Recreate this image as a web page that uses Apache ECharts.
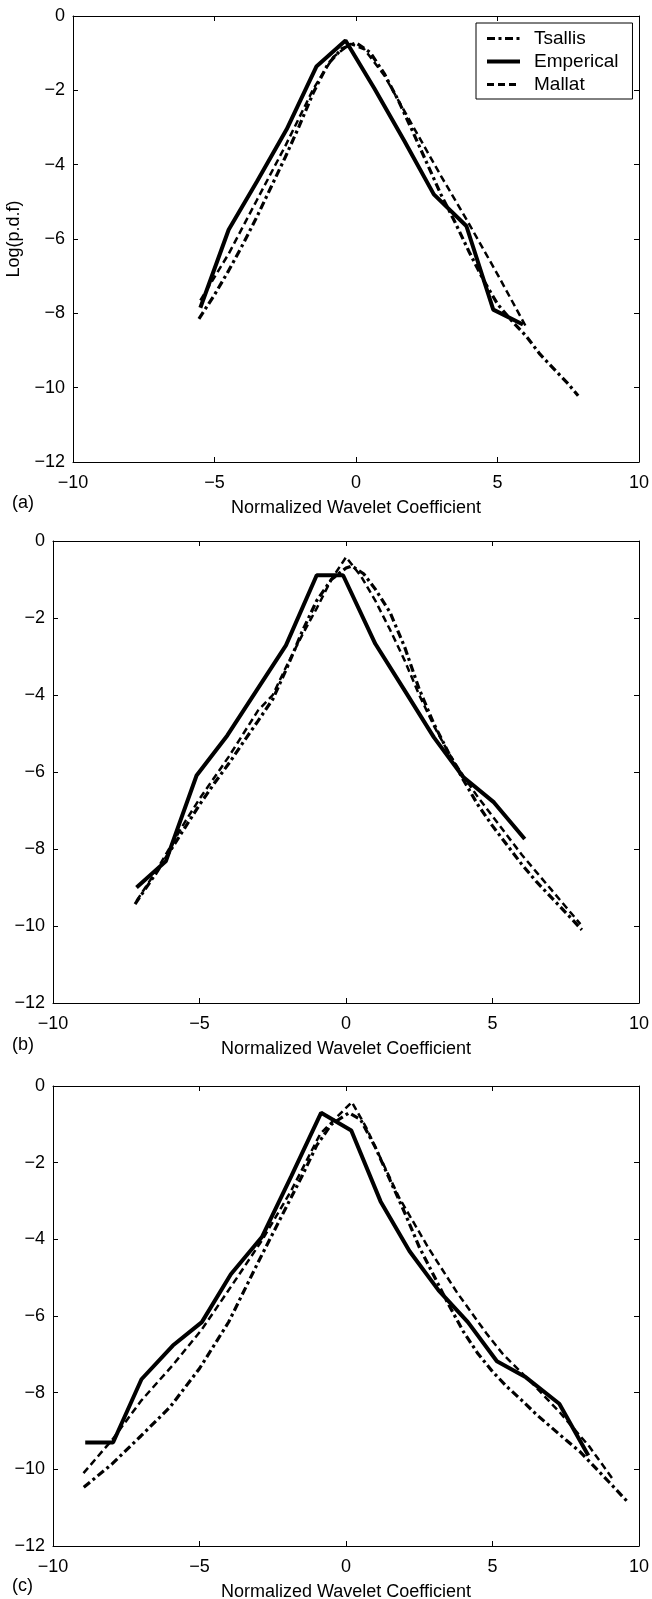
<!DOCTYPE html>
<html><head><meta charset="utf-8">
<script src="https://cdn.jsdelivr.net/npm/echarts@6/dist/echarts.min.js"></script>
<style>html,body{margin:0;padding:0;background:#fff}#c{width:652px;height:1599px}</style>
</head><body><div id="c"></div>
<script>
const seriesNames = ['Tsallis', 'Emperical', 'Mallat'];
const xTicks = [-10, -5, 0, 5, 10];
const yTicks = [0, -2, -4, -6, -8, -10, -12];
const panelLabels = ['(a)', '(b)', '(c)'];
const xAxisTitle = 'Normalized Wavelet Coefficient';
const yAxisTitle = 'Log(p.d.f)';

// ---- panel (a)
const aTsallisX = [-5.55,-5.0,-4.5,-4.0,-3.5,-3.0,-2.5,-2.0,-1.5,-1.0,-0.5,0.0,0.5,1.0,1.5,2.0,2.5,3.0,3.5,4.0,4.5,5.0,5.5,6.0,6.5,7.0,7.5,7.85];
const aTsallisY = [-8.15,-7.5,-6.85,-6.15,-5.4,-4.6,-3.8,-2.95,-2.05,-1.3,-0.88,-0.72,-0.98,-1.55,-2.28,-3.1,-3.95,-4.8,-5.55,-6.35,-7.1,-7.75,-8.2,-8.6,-9.1,-9.5,-9.9,-10.22];
const aEmpiricalX = [-5.5,-4.5,-3.5,-2.45,-1.4,-0.37,0.65,1.7,2.75,3.9,4.85,5.9];
const aEmpiricalY = [-7.85,-5.75,-4.45,-3.05,-1.36,-0.66,-1.95,-3.35,-4.8,-5.65,-7.9,-8.3];
const aMallatX = [-5.5,-4.5,-3.5,-2.5,-1.5,-0.8,-0.2,0.3,1.0,2.0,3.0,4.0,5.0,6.0];
const aMallatY = [-7.65,-6.4,-4.95,-3.5,-1.95,-1.1,-0.75,-0.9,-1.6,-2.95,-4.3,-5.6,-6.95,-8.35];

// ---- panel (b)
const bTsallisX = [-7.2,-6.5,-6.0,-5.5,-5.0,-4.5,-4.0,-3.5,-3.0,-2.5,-2.0,-1.5,-1.0,-0.5,0.0,0.2,0.6,1.0,1.5,2.0,2.5,3.0,3.5,4.0,4.5,5.0,5.5,6.0,6.5,7.0,7.5,8.05];
const bTsallisY = [-9.43,-8.65,-8.05,-7.45,-6.85,-6.3,-5.78,-5.22,-4.67,-4.11,-3.27,-2.36,-1.55,-1.0,-0.7,-0.65,-0.85,-1.25,-1.85,-2.75,-3.85,-4.75,-5.5,-6.2,-6.85,-7.4,-7.9,-8.4,-8.85,-9.25,-9.65,-10.1];
const bEmpiricalX = [-7.15,-6.15,-5.1,-4.05,-3.05,-2.05,-1.0,-0.1,1.0,2.0,3.0,4.0,5.05,6.1];
const bEmpiricalY = [-9.0,-8.32,-6.09,-5.05,-3.88,-2.71,-0.89,-0.89,-2.67,-3.88,-5.1,-6.13,-6.79,-7.74];
const bMallatX = [-7.15,-6.5,-6.0,-5.5,-5.0,-4.5,-4.0,-3.5,-3.0,-2.5,-2.0,-1.5,-1.0,-0.5,0.0,0.5,1.0,1.5,2.0,2.5,3.0,3.5,4.0,4.5,5.0,5.5,6.0,6.5,7.0,7.5,8.0];
const bMallatY = [-9.35,-8.6,-7.95,-7.3,-6.7,-6.15,-5.6,-5.0,-4.4,-4.0,-3.2,-2.45,-1.75,-1.0,-0.42,-0.9,-1.55,-2.3,-3.1,-4.0,-4.8,-5.5,-6.1,-6.65,-7.15,-7.65,-8.15,-8.6,-9.05,-9.5,-9.95];

// ---- panel (c)
const cTsallisX = [-8.95,-8.0,-7.0,-6.0,-5.0,-4.0,-3.0,-2.0,-1.5,-1.0,-0.5,0.1,0.5,1.0,1.5,2.0,2.5,3.0,3.5,4.0,4.5,5.0,5.5,6.0,6.5,7.0,7.5,8.0,8.5,9.0,9.65];
const cTsallisY = [-10.47,-9.87,-9.13,-8.37,-7.37,-6.15,-4.6,-3.1,-2.35,-1.55,-1.0,-0.7,-0.88,-1.6,-2.45,-3.3,-4.2,-4.95,-5.7,-6.4,-6.98,-7.45,-7.85,-8.2,-8.57,-8.9,-9.23,-9.55,-9.95,-10.35,-10.88];
const cEmpiricalX = [-8.9,-7.95,-6.98,-5.91,-4.92,-3.93,-2.87,-1.87,-0.85,0.18,1.18,2.17,3.16,4.16,5.15,6.14,7.28,8.27];
const cEmpiricalY = [-9.3,-9.3,-7.65,-6.77,-6.16,-4.91,-3.94,-2.36,-0.7,-1.16,-3.01,-4.31,-5.33,-6.16,-7.18,-7.6,-8.29,-9.64];
const cMallatX = [-8.96,-7.97,-6.98,-5.91,-4.92,-3.93,-2.87,-1.87,-0.88,-0.3,0.2,0.68,1.82,2.81,3.8,4.79,5.36,6.35,7.28,8.3,9.1];
const cMallatY = [-10.1,-9.22,-8.2,-7.28,-6.35,-5.24,-4.03,-2.73,-1.25,-0.8,-0.42,-1.07,-2.92,-4.22,-5.4,-6.45,-7.0,-7.75,-8.5,-9.4,-10.25];

const panels = [
  [[aTsallisX, aTsallisY], [aEmpiricalX, aEmpiricalY], [aMallatX, aMallatY]],
  [[bTsallisX, bTsallisY], [bEmpiricalX, bEmpiricalY], [bMallatX, bMallatY]],
  [[cTsallisX, cTsallisY], [cEmpiricalX, cEmpiricalY], [cMallatX, cMallatY]]
];

const FONT = '"Liberation Sans", Arial, Helvetica, sans-serif';
const styles = [
  {color: '#000', width: 3.2, type: [8, 3.5, 3, 3.5], cap: 'butt'},
  {color: '#000', width: 4, type: 'solid'},
  {color: '#000', width: 2.5, type: [7, 4], cap: 'butt'}
];
const gridBoxes = [
  {left: 73, right: 13, top: 16, height: 446},
  {left: 53, right: 13, top: 541, height: 462},
  {left: 53, right: 13, top: 1086, height: 460}
];
const labelTops = [494, 1036, 1577];

const minus = v => String(v).replace('-', '\u2212');
const axisLine = {show: true, onZero: false, lineStyle: {color: '#000', width: 1}};
const pairs = (xs, ys) => xs.map((x, i) => [x, ys[i]]);

const grid = [], xAxis = [], yAxis = [], series = [], graphic = [];
gridBoxes.forEach((g, p) => {
  grid.push(Object.assign({outerBoundsMode: 'none', containLabel: false}, g));
  const xBase = {
    type: 'value', gridIndex: p, min: xTicks[0], max: xTicks[xTicks.length - 1],
    interval: xTicks[1] - xTicks[0], axisLine, splitLine: {show: false},
    axisTick: {show: true, inside: true, length: 5, lineStyle: {color: '#000'}}
  };
  xAxis.push(Object.assign({}, xBase, {
    position: 'bottom',
    axisLabel: {show: true, margin: 12, fontSize: 18, color: '#000', fontFamily: FONT, formatter: minus},
    name: xAxisTitle, nameLocation: 'middle', nameGap: 37,
    nameTextStyle: {fontSize: 18, color: '#000', fontFamily: FONT}
  }));
  xAxis.push(Object.assign({}, xBase, {position: 'top', axisLabel: {show: false}}));
  const yBase = {
    type: 'value', gridIndex: p, min: yTicks[yTicks.length - 1], max: yTicks[0],
    interval: yTicks[0] - yTicks[1], axisLine, splitLine: {show: false},
    axisTick: {show: true, inside: true, length: 5, lineStyle: {color: '#000'}}
  };
  const yLeft = Object.assign({}, yBase, {
    position: 'left',
    axisLabel: {show: true, margin: 8, fontSize: 18, color: '#000', fontFamily: FONT, formatter: minus}
  });
  if (p === 0) {
    Object.assign(yLeft, {name: yAxisTitle, nameLocation: 'middle', nameGap: 50,
      nameTextStyle: {fontSize: 18, color: '#000', fontFamily: FONT}});
  }
  yAxis.push(yLeft);
  yAxis.push(Object.assign({}, yBase, {position: 'right', axisLabel: {show: false}}));

  panels[p].forEach((s, k) => {
    series.push({
      name: seriesNames[k], type: 'line', xAxisIndex: 2 * p, yAxisIndex: 2 * p,
      data: pairs(s[0], s[1]), symbol: 'none', showSymbol: false, smooth: false,
      lineStyle: styles[k], silent: true, animation: false, clip: true
    });
  });
  graphic.push({type: 'text', left: 12, top: labelTops[p],
    style: {text: panelLabels[p], font: '18px ' + FONT, fill: '#000'}});
});

const chart = echarts.init(document.getElementById('c'), null, {renderer: 'canvas'});
chart.setOption({
  animation: false,
  backgroundColor: '#fff',
  grid, xAxis, yAxis, series, graphic,
  legend: {
    left: 476, top: 23, orient: 'vertical', selectedMode: false,
    data: seriesNames.map((n, k) => ({
      name: n,
      lineStyle: Object.assign({}, styles[k], {width: k === 1 ? 4 : 3}),
      itemStyle: {color: 'rgba(0,0,0,0)', opacity: 0, borderWidth: 0}
    })),
    itemWidth: 33, itemHeight: 14, itemGap: 4,
    padding: [6, 14, 5, 9],
    borderColor: '#000', borderWidth: 1, backgroundColor: '#fff',
    textStyle: {fontSize: 19, lineHeight: 19, color: '#000', fontFamily: FONT, padding: [0, 0, 0, 9]}
  }
});
</script></body></html>
